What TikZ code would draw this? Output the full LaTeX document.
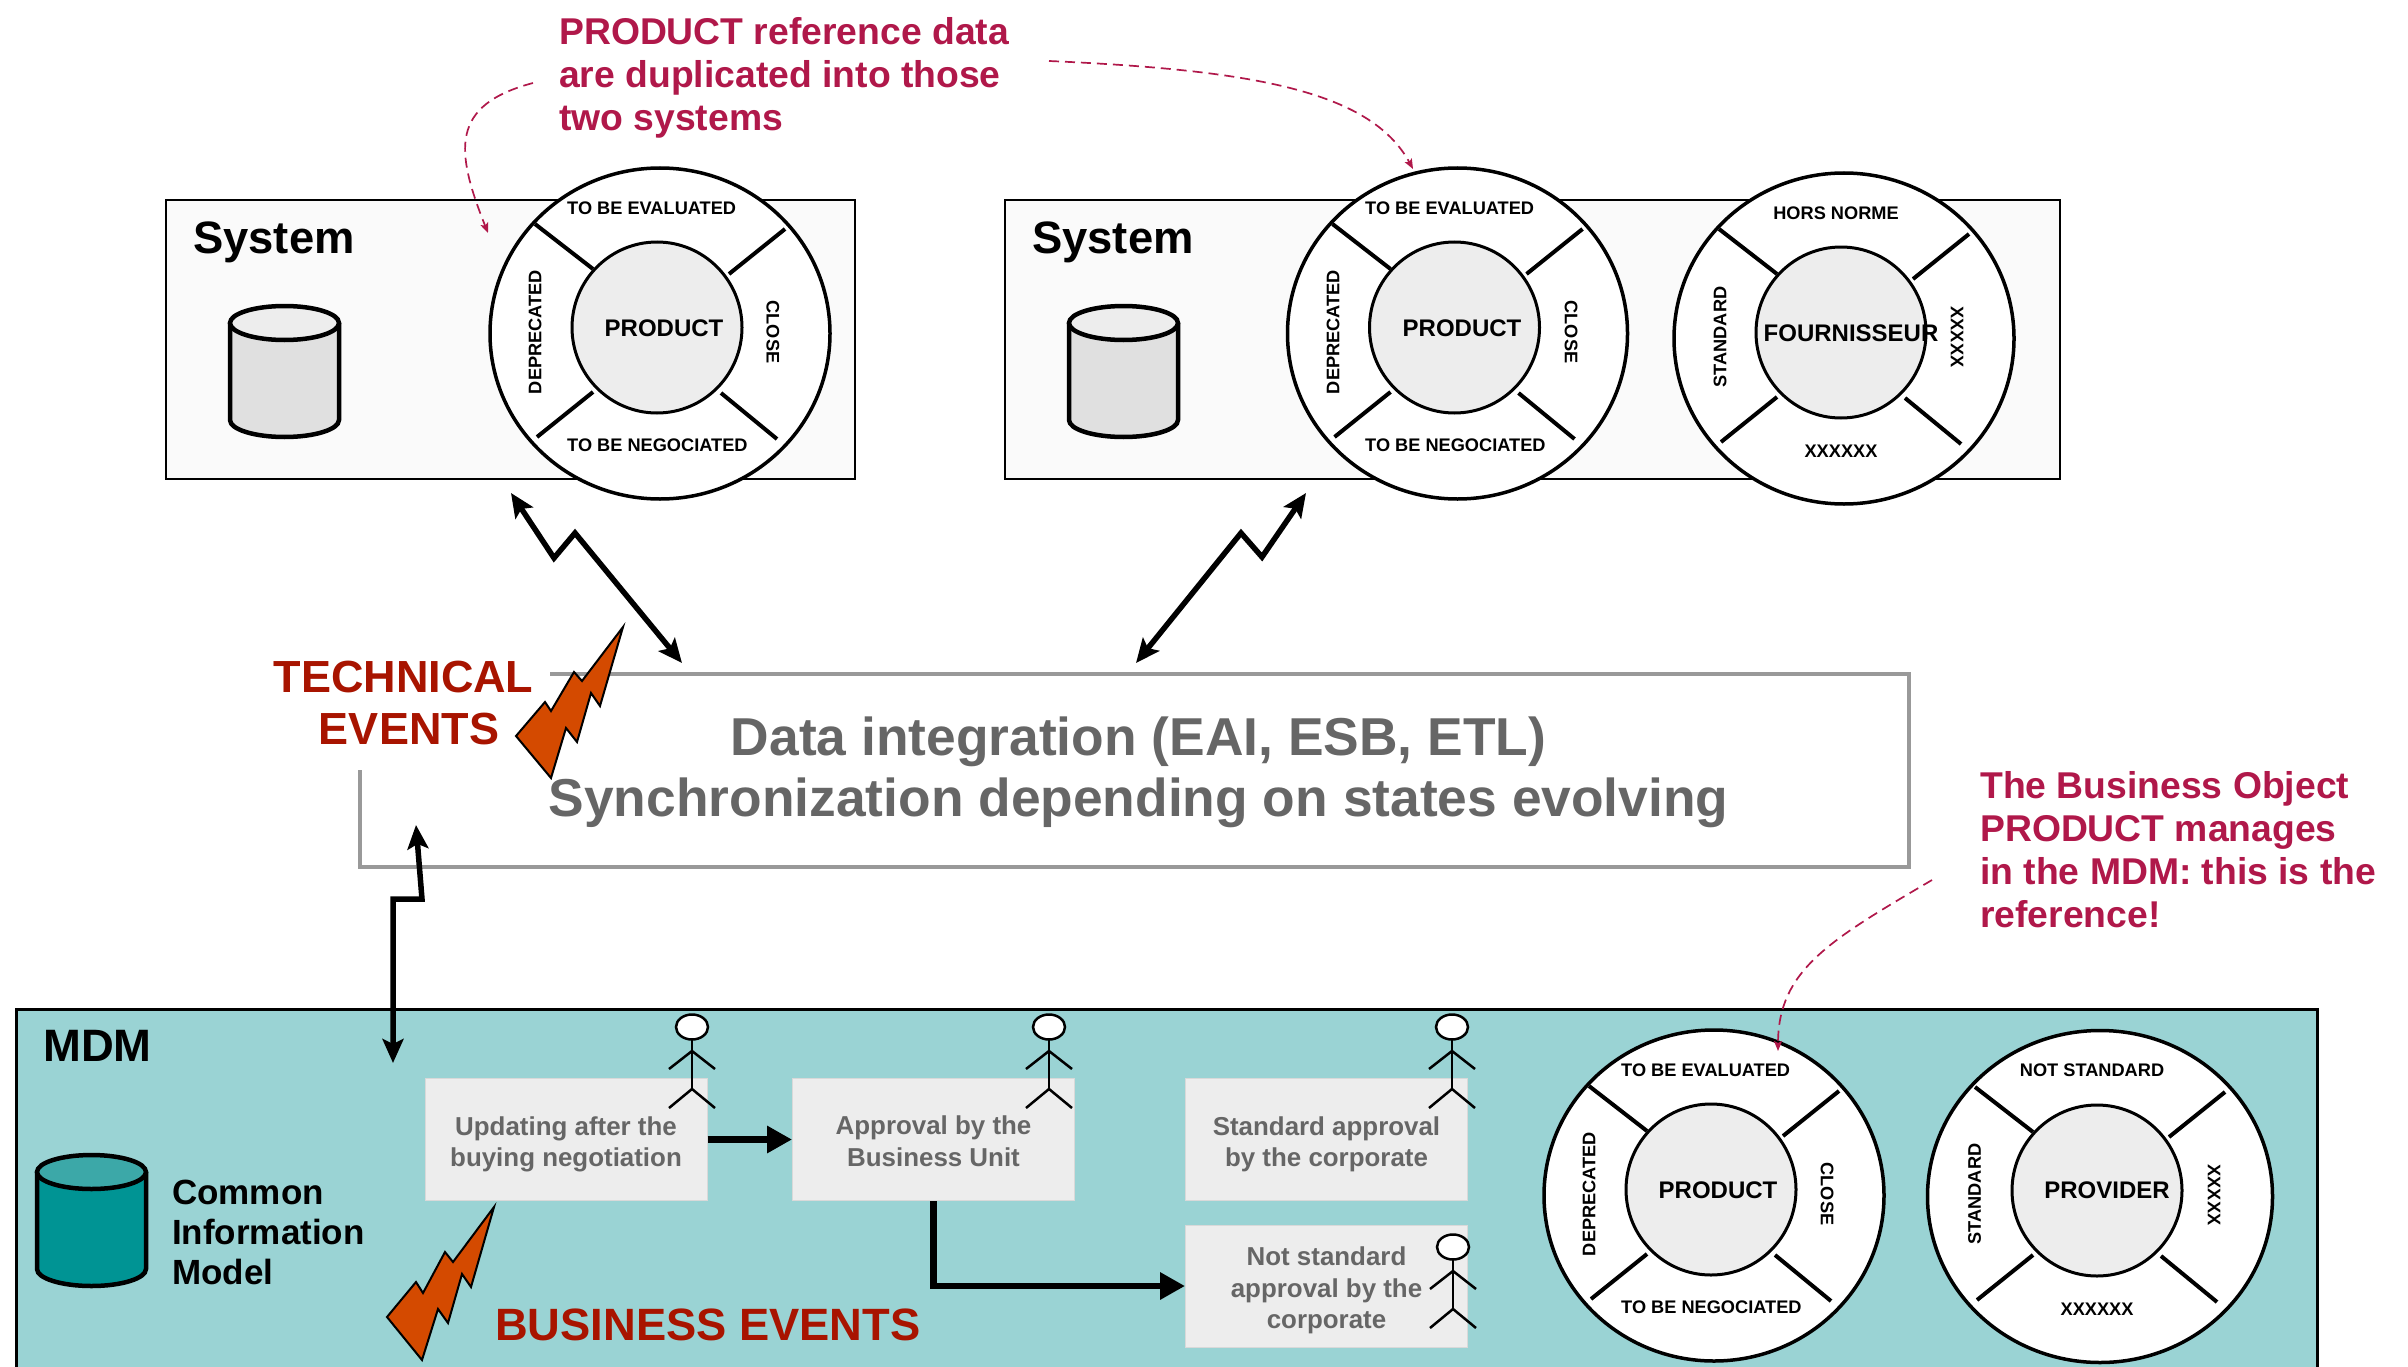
\documentclass[tikz,border=0pt]{standalone}
\usepackage{fontspec}
\setmainfont{Liberation Sans}
\usetikzlibrary{arrows.meta,shapes.geometric}
\definecolor{mdmbg}{HTML}{9AD3D4}
\definecolor{sysbg}{HTML}{FAFAFA}
\definecolor{crim}{HTML}{B0184A}
\definecolor{redev}{HTML}{A81400}
\definecolor{bolt}{HTML}{D44A00}
\definecolor{gtxt}{HTML}{666666}
\definecolor{gbox}{HTML}{EDEDED}
\definecolor{teal1}{HTML}{009494}
\definecolor{teal2}{HTML}{3CA8A8}
\newcommand{\upstrut}{\rule{0pt}{28pt}}
\newcommand{\downstrut}{\rule[-6pt]{0pt}{6pt}}
\tikzset{
  sysbox/.style={draw=black,line width=2pt,fill=sysbg,rectangle,inner sep=0pt},
  outerw/.style={ellipse,draw=black,line width=3.5pt,fill=white,minimum width=340pt,minimum height=331pt,inner sep=0pt},
  innerw/.style={ellipse,draw=black,line width=3pt,fill=gbox,minimum width=170pt,minimum height=171pt,inner sep=0pt},
  spoke/.style={line width=4pt,black},
  st/.style={font=\bfseries\fontsize{18.2}{20}\selectfont,inner sep=0pt},
  wname/.style={font=\bfseries\fontsize{24}{26}\selectfont,inner sep=0pt},
  big/.style={font=\bfseries\fontsize{45.4}{52}\selectfont,inner sep=0pt},
  redt/.style={font=\bfseries\fontsize{45}{52}\selectfont,inner sep=0pt,text=redev},
  note/.style={font=\bfseries\fontsize{37.3}{43}\selectfont,inner sep=0pt,text=crim,align=left},
  intt/.style={font=\bfseries\fontsize{53.35}{61}\selectfont,inner sep=0pt,text=gtxt,align=center},
  stepbox/.style={rectangle,draw=black!15,line width=1pt,fill=gbox,inner sep=0pt,minimum width=282pt,minimum height=122pt,
     font=\bfseries\fontsize{25.9}{31.5}\selectfont,text=gtxt,align=center},
  dbl/.style={line width=5.5pt,black,line join=miter,{Stealth[length=24pt,width=21pt,inset=5pt]}-{Stealth[length=24pt,width=21pt,inset=5pt]}},
  thick arrow/.style={line width=6.5pt,black,-{Triangle[length=25pt,width=26pt]}},
  dashnote/.style={line width=1.7pt,crim,dash pattern=on 10pt off 6pt,-{Stealth[length=10pt,width=8pt,inset=2pt]}},
  boltst/.style={fill=bolt,draw=black,line width=2pt,line join=miter},
}
\newcommand{\wheel}[3]{%
  \begin{scope}[shift={(#2,#3)}]
    \node[outerw] (#1o) at (660,333.5) {};
    \draw[spoke] (535,224) -- (593,269);
    \draw[spoke] (785,229) -- (729,274);
    \draw[spoke] (593,392) -- (537,437);
    \draw[spoke] (721,393) -- (777,439);
    \node[innerw] (#1i) at (657,327.5) {};
  \end{scope}}
\newcommand{\wlabels}[4]{%
  \begin{scope}[shift={(#2,#3)}]
    \node[st,anchor=west] (#1a) at (567,208) {TO BE EVALUATED};
    \node[st,anchor=west] (#1b) at (567,445) {TO BE NEGOCIATED};
    \node[st,rotate=90] (#1c) at (535,332) {DEPRECATED};
    \node[st,rotate=-90] (#1d) at (773,332) {CLOSE};
    \node[wname] (#1e) at (664,328) {#4};
  \end{scope}}
\newcommand{\cyl}[6]{%
  \draw[line width=4.5pt,fill=#5] ({#1},{#3+17}) -- ({#1},{#4-17}) arc[start angle=180,end angle=360,x radius={(#2-#1)/2*1pt},y radius=17pt] -- ({#2},{#3+17});
  \draw[line width=4.5pt,fill=#6] ({(#1+#2)/2},{#3+17}) ellipse[x radius={(#2-#1)/2*1pt},y radius=17pt];}
\newcommand{\actor}[2]{%
  \begin{scope}[shift={(#1,#2)},line width=2.5pt]
    \draw (0,12) -- (0,62);
    \draw (-23,42) -- (0,24) -- (23,42);
    \draw (-23,81) -- (0,62) -- (23,81);
    \draw[fill=white] (0,0) ellipse[x radius=16pt,y radius=12.5pt];
  \end{scope}}
\begin{document}
\begin{tikzpicture}[x=1pt,y=-1pt]
\useasboundingbox[fill=white] (0,0) rectangle (2408,1367);
% systems
\node[sysbox,minimum width=689pt,minimum height=279pt] (sys1) at (510.5,339.5) {};
\node[sysbox,minimum width=1055pt,minimum height=279pt] (sys2) at (1532.5,339.5) {};
\node[big,anchor=west] (sys1t) at (193,242.5) {System};
\node[big,anchor=west] (sys2t) at (1032,242.5) {System};
\cyl{230}{339}{306}{437}{black!12}{black!7}
\cyl{1069}{1178}{306}{437}{black!12}{black!7}
\wheel{wa}{0}{0}
\wlabels{wa}{0}{0}{PRODUCT}
\wheel{wb}{797.5}{0}
\wlabels{wb}{798}{0}{PRODUCT}
\wheel{wc}{1184}{5}
\node[st] (wct) at (1836,213.5) {HORS NORME};
\node[st] (wcb) at (1841,451) {XXXXXX};
\node[st,rotate=90] (wcl) at (1720,337) {STANDARD};
\node[st,rotate=-90] (wcr) at (1957,337) {XXXXX};
\node[wname] (wcn) at (1851,333) {FOURNISSEUR};
% integration box
\draw[line width=4.5pt,black!40] (550,674) -- (1909,674) -- (1909,867) -- (360,867) -- (360,770);
\node[intt] (intg) at (1138.5,772.5) {Data integration (EAI, ESB, ETL)\\Synchronization depending on states evolving};
\node[redt] (tech) at (403.5,677) {TECHNICAL};
\node[redt] (evts) at (409,729) {EVENTS};
\coordinate (c1a) at (511,493);
\coordinate (c1b) at (554,558);
\coordinate (c1c) at (575,533);
\coordinate (c1d) at (682,663);
\draw[dbl] (c1a) -- (c1b) -- (c1c) -- (c1d);
\coordinate (c2a) at (1306,493);
\coordinate (c2b) at (1262,557);
\coordinate (c2c) at (1241,533);
\coordinate (c2d) at (1136,663);
\draw[dbl] (c2a) -- (c2b) -- (c2c) -- (c2d);
\draw[boltst] (623,627) -- (600,706) -- (591,693) -- (577,742) -- (566,728) -- (551,778) -- (516,736) -- (545,702) -- (551,711) -- (574,672) -- (582,681) -- cycle;
% MDM
\node[rectangle,draw=black,line width=2.5pt,fill=mdmbg,minimum width=2301pt,minimum height=375pt,inner sep=0pt,anchor=north west] (mdm) at (15,1008) {};
\coordinate (c3a) at (416,825);
\coordinate (c3b) at (422,899);
\coordinate (c3c) at (393,899);
\coordinate (c3d) at (393,1063);
\draw[dbl] (c3a) -- (c3b) -- (c3c) -- (c3d);
\node[big,anchor=west] (mdmt) at (43,1046) {MDM};
\cyl{37}{146}{1155}{1286}{teal1}{teal2}
\node[font=\bfseries\fontsize{35}{40}\selectfont,inner sep=0pt,align=left,anchor=west] (cim) at (172,1232) {Common\\Information\\Model};
\node[stepbox] (b1) at (566,1139.5) {\upstrut Updating after the\\buying negotiation};
\node[stepbox] (b2) at (933.5,1139.5) {\upstrut Approval by the\\Business Unit\downstrut};
\node[stepbox] (b3) at (1326.5,1139.5) {\upstrut Standard approval\\by the corporate};
\node[stepbox] (b4) at (1326.5,1286) {\upstrut Not standard\\approval by the\\corporate};
\draw[thick arrow] (b1) -- (b2);
\draw[thick arrow] (b2.south) |- (b4.west);
\actor{692}{1027}
\actor{1049}{1027}
\actor{1452}{1027}
\actor{1453}{1247}
\draw[boltst] (494,1207) -- (471,1287) -- (462,1274) -- (448,1323) -- (438,1309) -- (422,1360) -- (387,1317) -- (416,1282) -- (423,1293) -- (445,1252) -- (453,1262) -- cycle;
\node[redt,anchor=west,font=\bfseries\fontsize{45.3}{52}\selectfont] (bus) at (495,1325) {BUSINESS EVENTS};
\wheel{wd}{1054}{862}
\wlabels{wd}{1054}{862}{PRODUCT}
\begin{scope}[outerw/.append style={minimum width=345pt,minimum height=332pt}]
\wheel{we}{1440}{863}
\end{scope}
\node[st] (wet) at (2092,1070) {NOT STANDARD};
\node[st] (web) at (2097,1309) {XXXXXX};
\node[st,rotate=90] (wel) at (1974.5,1194) {STANDARD};
\node[st,rotate=-90] (wer) at (2214,1195) {XXXXX};
\node[wname] (wen) at (2107,1190) {PROVIDER};
% notes
\node[note,anchor=north west] (n1) at (559,17) {PRODUCT reference data\\are duplicated into those\\two systems};
\node[note,anchor=north west] (n2) at (1980,771) {The Business Object\\PRODUCT manages\\in the MDM: this is the\\reference!};
\coordinate (d1a) at (533,83);
\coordinate (d1b) at (488,233);
\coordinate (d2a) at (1049,61);
\coordinate (d2b) at (1413,169);
\coordinate (d3a) at (1932,880);
\coordinate (d3b) at (1778,1051);
\draw[dashnote] (d1a) .. controls (450,105) and (455,150) .. (d1b);
\draw[dashnote] (d2a) .. controls (1250,70) and (1370,90) .. (d2b);
\draw[dashnote] (d3a) .. controls (1830,940) and (1778,970) .. (d3b);
\end{tikzpicture}
\end{document}
